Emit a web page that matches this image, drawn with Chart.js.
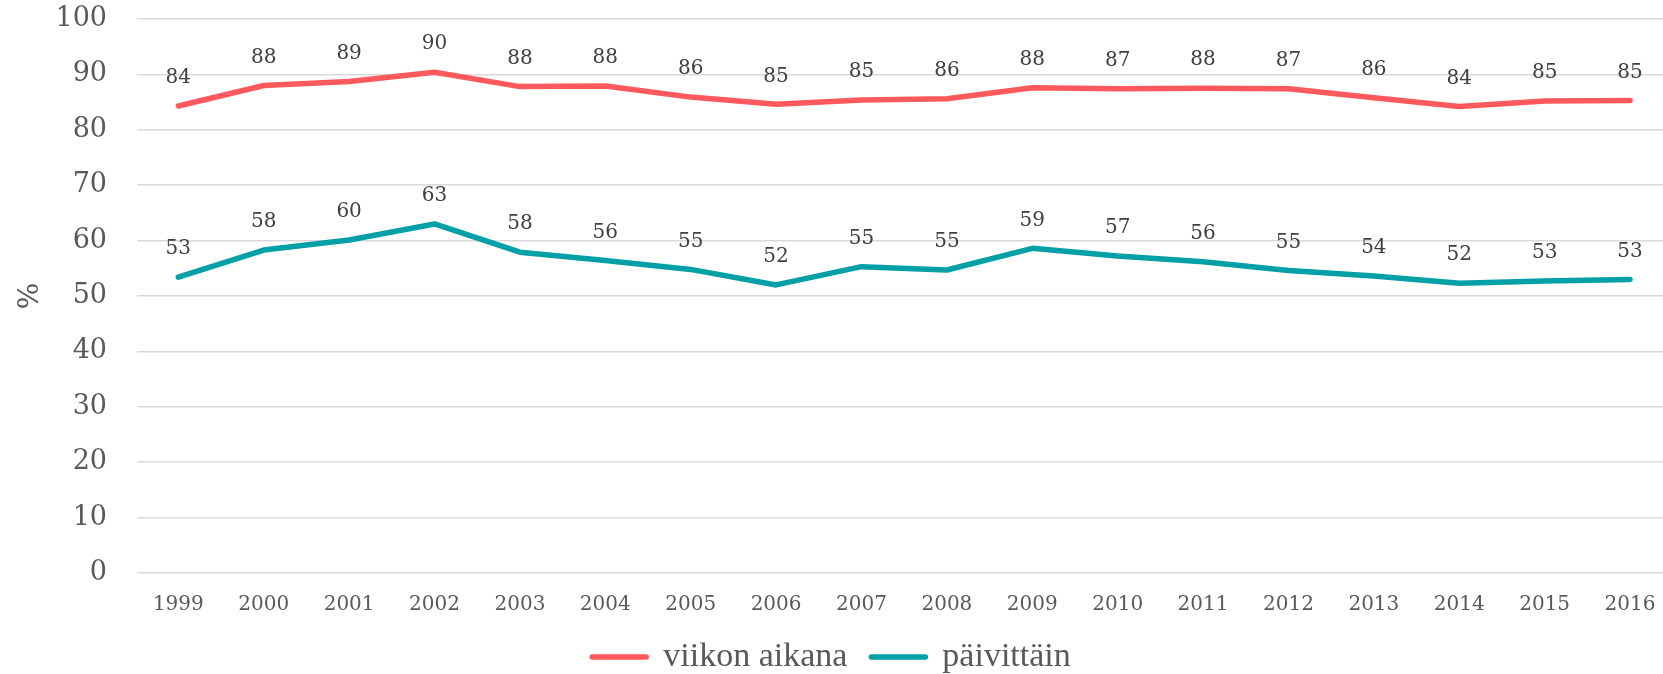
<!DOCTYPE html>
<html>
<head>
<meta charset="utf-8">
<script src="https://cdn.jsdelivr.net/npm/chart.js@4.4.1/dist/chart.umd.min.js"></script>
<style>
  html, body { margin: 0; padding: 0; background: #fff; overflow: hidden; }
  #wrap { width: 1663px; height: 674px; position: relative; }
</style>
</head>
<body>
<div id="wrap"><canvas id="myChart"></canvas></div>
<script>
// data
var years = [1999, 2000, 2001, 2002, 2003, 2004, 2005, 2006, 2007, 2008, 2009, 2010, 2011, 2012, 2013, 2014, 2015, 2016];
var viikonAikana = [84.3, 88.0, 88.7, 90.4, 87.8, 87.9, 85.9, 84.6, 85.4, 85.6, 87.6, 87.4, 87.5, 87.4, 85.8, 84.2, 85.2, 85.3];
var paivittain = [53.4, 58.3, 60.1, 63.0, 57.9, 56.4, 54.8, 52.0, 55.3, 54.7, 58.6, 57.2, 56.2, 54.6, 53.6, 52.3, 52.7, 53.0];
var seriesNames = ['viikon aikana', 'päivittäin'];
var yTicks = [0, 10, 20, 30, 40, 50, 60, 70, 80, 90, 100];

var RED = '#ff595e';
var TEAL = '#00a0a6';

Chart.defaults.font.family = "'DejaVu Serif', serif";
Chart.defaults.color = '#595959';

// value labels above each point
var pointLabels = {
  id: 'pointLabels',
  afterDatasetsDraw: function(chart) {
    var ctx = chart.ctx;
    ctx.save();
    ctx.font = "20px 'DejaVu Serif', serif";
    ctx.fillStyle = '#404040';
    ctx.textAlign = 'center';
    ctx.textBaseline = 'middle';
    chart.data.datasets.forEach(function(ds, i) {
      var meta = chart.getDatasetMeta(i);
      meta.data.forEach(function(pt, j) {
        ctx.fillText(String(Math.round(ds.data[j])), pt.x, pt.y - 28);
      });
    });
    ctx.restore();
  }
};

var ctx = document.getElementById('myChart').getContext('2d');
var chart = new Chart(ctx, {
  type: 'line',
  data: {
    labels: years,
    datasets: [{
      label: seriesNames[0],
      data: viikonAikana,
      borderColor: RED,
      backgroundColor: RED,
      borderWidth: 5.5,
      borderCapStyle: 'round',
      borderJoinStyle: 'round',
      pointRadius: 0,
      tension: 0
    }, {
      label: seriesNames[1],
      data: paivittain,
      borderColor: TEAL,
      backgroundColor: TEAL,
      borderWidth: 5.5,
      borderCapStyle: 'round',
      borderJoinStyle: 'round',
      pointRadius: 0,
      tension: 0
    }]
  },
  options: {
    responsive: true,
    maintainAspectRatio: false,
    animation: false,
    layout: { padding: { top: 19, left: 0, right: 0, bottom: 0 } },
    scales: {
      x: {
        type: 'linear',
        min: 1998.516,
        max: 2016.386,
        grid: { display: false, drawTicks: false },
        border: { display: false },
        afterBuildTicks: function(scale) {
          scale.ticks = years.map(function(y) { return { value: y }; });
        },
        afterFit: function(scale) {
          scale.height = 43;
          scale.paddingLeft = 0;
          scale.paddingRight = 0;
        },
        ticks: {
          padding: 20,
          font: { size: 20 },
          color: '#595959',
          maxRotation: 0,
          autoSkip: false,
          callback: function(v) { return String(v); }
        }
      },
      y: {
        min: 0,
        max: 100,
        afterBuildTicks: function(scale) {
          scale.ticks = yTicks.map(function(v) { return { value: v }; });
        },
        afterFit: function(scale) {
          scale.width = 137;
          scale.paddingTop = 0;
          scale.paddingBottom = 0;
        },
        grid: { color: '#d9d9d9', lineWidth: 1.5, drawTicks: false },
        border: { display: false },
        ticks: { padding: 30, font: { size: 27 }, color: '#595959' },
        title: {
          display: true,
          text: '%',
          font: { size: 28 },
          color: '#595959',
          padding: { top: 14, bottom: 0 }
        }
      }
    },
    plugins: {
      legend: {
        position: 'bottom',
        maxHeight: 58,
        labels: {
          font: { family: "'Liberation Serif', serif", size: 34 },
          color: '#595959',
          boxWidth: 54,
          boxHeight: 0,
          padding: 24
        }
      },
      tooltip: { enabled: false }
    }
  },
  plugins: [pointLabels]
});
</script>
</body>
</html>
